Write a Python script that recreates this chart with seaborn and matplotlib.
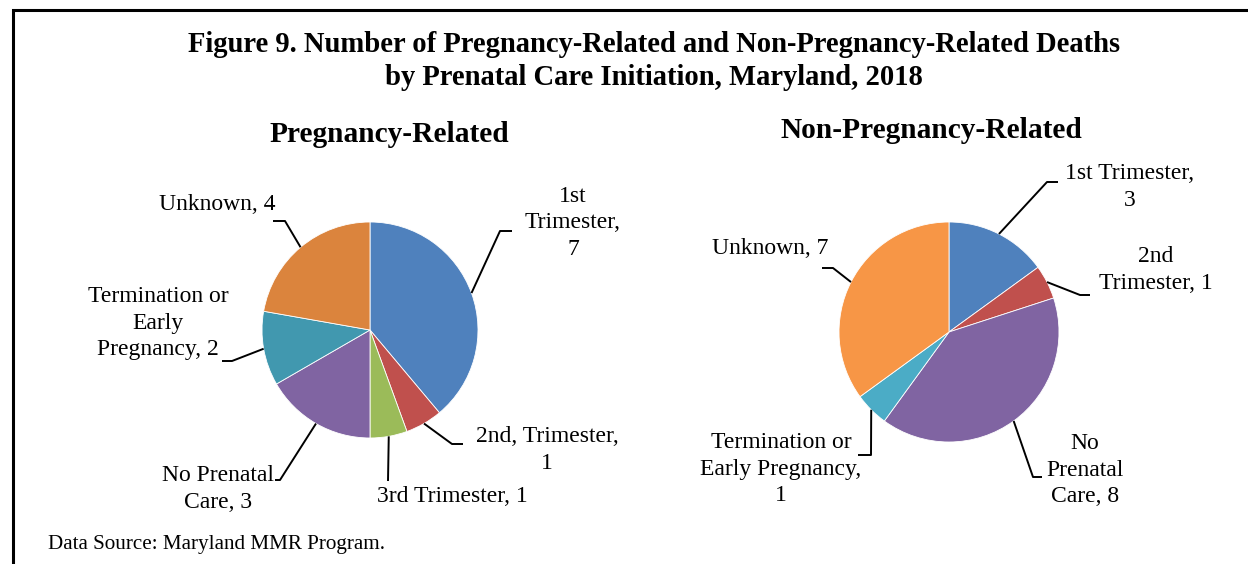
import matplotlib
matplotlib.use("Agg")
import matplotlib.pyplot as plt
import seaborn as sns
import numpy as np

sns.set_theme(style="white")
plt.rcParams['font.family'] = ['Liberation Serif', 'DejaVu Serif']

# ---------------- data ----------------
left_categories = ["1st Trimester", "2nd Trimester", "3rd Trimester",
                   "No Prenatal Care", "Termination or Early Pregnancy", "Unknown"]
left_values = [7, 1, 1, 3, 2, 4]
left_labels = ["1st\nTrimester,\n7", "2nd, Trimester,\n1", "3rd Trimester, 1",
               "No Prenatal\nCare, 3", "Termination or\nEarly\nPregnancy, 2", "Unknown, 4"]
left_colors = ["#4F81BD", "#C0504D", "#9BBB59", "#8064A2", "#4198AF", "#DB843D"]

right_categories = ["1st Trimester", "2nd Trimester", "No Prenatal Care",
                    "Termination or Early Pregnancy", "Unknown"]
right_values = [3, 1, 8, 1, 7]
right_labels = ["1st Trimester,\n3", "2nd\nTrimester, 1", "No\nPrenatal\nCare, 8",
                "Termination or\nEarly Pregnancy,\n1", "Unknown, 7"]
right_colors = ["#4F81BD", "#C0504D", "#8064A2", "#4BACC6", "#F79646"]

title = "Figure 9. Number of Pregnancy-Related and Non-Pregnancy-Related Deaths\nby Prenatal Care Initiation, Maryland, 2018"
left_title = "Pregnancy-Related"
right_title = "Non-Pregnancy-Related"
source = "Data Source: Maryland MMR Program."

# ---------------- layout (image pixel coords, y downward) ----------------
W, H = 1248, 564
fig = plt.figure(figsize=(W / 100, H / 100), dpi=100)
ax = fig.add_axes([0, 0, 1, 1])

def Y(y):
    return H - y

left_center, left_radius = (370, 330), 108
right_center, right_radius = (949, 332), 110

# text position (x, y), elbow (x, y), end (x, y), ha
left_layout = [
    ((573, 223), (500, 231), (512, 231), "center"),
    ((547, 450), (452, 444), (463, 444), "center"),
    ((452, 496), (388, 481), (388, 481), "center"),
    ((218, 489), (280, 480), (275, 480), "center"),
    ((158, 323), (232, 361), (222, 361), "center"),
    ((217, 205), (285, 221), (273, 221), "center"),
]
right_layout = [
    ((1130, 187), (1047, 182), (1058, 182), "center"),
    ((1156, 270), (1080, 295), (1090, 295), "center"),
    ((1085, 470), (1033, 477), (1042, 477), "center"),
    ((781, 469), (871, 455), (858, 455), "center"),
    ((770, 248), (833, 268), (822, 268), "center"),
]

LABEL_FS = 17
LINE_SP = 1.32


def draw_pie(values, colors, labels, center, radius, layout):
    wedges, _ = ax.pie(values, colors=colors, startangle=90, counterclock=False,
                       center=(center[0], Y(center[1])), radius=radius,
                       wedgeprops=dict(edgecolor="white", linewidth=0.6))
    for w, lab, (tp, elbow, end, ha) in zip(wedges, labels, layout):
        ang = np.deg2rad((w.theta1 + w.theta2) / 2)
        ex = w.center[0] + w.r * np.cos(ang)
        ey = w.center[1] + w.r * np.sin(ang)
        ax.plot([ex, elbow[0], end[0]], [ey, Y(elbow[1]), Y(end[1])],
                color="black", lw=1.4, solid_capstyle="butt", zorder=3)
        ax.text(tp[0], Y(tp[1]), lab, ha=ha, va="center", fontsize=LABEL_FS,
                linespacing=LINE_SP, color="black")


draw_pie(left_values, left_colors, left_labels, left_center, left_radius, left_layout)
draw_pie(right_values, right_colors, right_labels, right_center, right_radius, right_layout)

ax.text(654, Y(61), title, ha="center", va="center", fontsize=20.6, fontweight="bold",
        linespacing=1.27, color="black")
ax.text(389, Y(135), left_title, ha="center", va="center", fontsize=21.2,
        fontweight="bold", color="black")
ax.text(931, Y(130), right_title, ha="center", va="center", fontsize=21.2,
        fontweight="bold", color="black")
ax.text(48, Y(545), source, ha="left", va="center", fontsize=15.2, color="black")

# frame (left and top borders)
ax.plot([13, 13, W], [0, Y(10), Y(10)], color="black", lw=2.2,
        solid_joinstyle="miter", zorder=5)

ax.set_xlim(0, W)
ax.set_ylim(0, H)
ax.set_aspect("equal")
ax.axis("off")

fig.savefig("out.png", dpi=100)
